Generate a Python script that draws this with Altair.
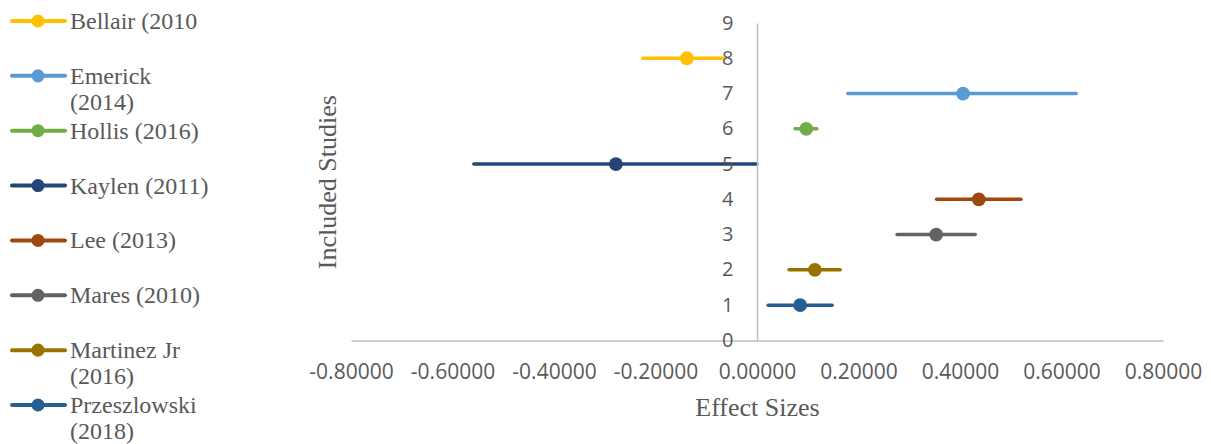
import altair as alt
import pandas as pd

# ---- data ----
studies = ["Bellair (2010", "Emerick (2014)", "Hollis (2016)", "Kaylen (2011)",
           "Lee (2013)", "Mares (2010)", "Martinez Jr (2016)", "Przeszlowski (2018)"]
legend_labels = ["Bellair (2010", "Emerick\n(2014)", "Hollis (2016)", "Kaylen (2011)",
                 "Lee (2013)", "Mares (2010)", "Martinez Jr\n(2016)", "Przeszlowski\n(2018)"]
y_pos = [8, 7, 6, 5, 4, 3, 2, 1]
effect = [-0.138, 0.406, 0.097, -0.278, 0.437, 0.353, 0.114, 0.085]
lower = [-0.225, 0.179, 0.075, -0.558, 0.354, 0.276, 0.063, 0.022]
upper = [-0.065, 0.629, 0.118, 0.000, 0.520, 0.430, 0.164, 0.148]
colors = ["#FFC000", "#5B9BD5", "#70AD47", "#264478",
          "#9E480E", "#636363", "#997300", "#255E91"]
x_ticks = [-0.8, -0.6, -0.4, -0.2, 0.0, 0.2, 0.4, 0.6, 0.8]
y_ticks = [0, 1, 2, 3, 4, 5, 6, 7, 8, 9]

df = pd.DataFrame({"study": studies, "label": legend_labels, "y": y_pos,
                   "es": effect, "lo": lower, "hi": upper})

TEXT = "#595959"
AXIS = "#BFBFBF"
PLOT_W, PLOT_H = 812, 317.4

color = alt.Color("study:N", scale=alt.Scale(domain=studies, range=colors), legend=None)

x_scale = alt.Scale(domain=[-0.8, 0.8], nice=False, zero=False)
y_scale = alt.Scale(domain=[0, 9], nice=False, zero=False)
x_axis = alt.Axis(values=x_ticks, title="Effect Sizes", grid=False, ticks=False,
                  labelExpr="replace(format(datum.value, '.5f'), '\u2212', '-')",
                  labelOverlap=False, labelFlush=False, labelBound=False,
                  labelPadding=21, titlePadding=12,
                  domainColor=AXIS, domainWidth=1.5,
                  labelFont="Open Sans", labelFontSize=21, labelColor=TEXT,
                  titleFont="Liberation Serif", titleFontSize=26,
                  titleFontWeight="normal", titleColor=TEXT)
y_axis = alt.Axis(values=y_ticks, labelExpr="format(datum.value, 'd')",
                  title="Included Studies",
                  grid=False, ticks=False, offset=-PLOT_W / 2,
                  labelOverlap=False, labelFlush=False, labelBound=False,
                  labelPadding=24, zindex=1,
                  domainColor=AXIS, domainWidth=1.5,
                  labelFont="Open Sans", labelFontSize=20, labelColor=TEXT,
                  titleX=-422, titleBaseline="alphabetic",
                  titleFont="Liberation Serif", titleFontSize=26,
                  titleFontWeight="normal", titleColor=TEXT)

base = alt.Chart(df)
rules = base.mark_rule(strokeWidth=3.5, strokeCap="round").encode(
    x=alt.X("lo:Q", scale=x_scale, axis=x_axis), x2="hi:Q",
    y=alt.Y("y:Q", scale=y_scale, axis=y_axis), color=color)
points = base.mark_circle(size=190, opacity=1).encode(
    x=alt.X("es:Q", scale=x_scale, axis=x_axis),
    y=alt.Y("y:Q", scale=y_scale, axis=y_axis), color=color)
main = alt.layer(rules, points).properties(width=PLOT_W, height=PLOT_H)

# ---- legend panel ----
leg_y = alt.Y("study:N", sort=studies, scale=alt.Scale(type="point", padding=0), axis=None)
leg_rule = base.mark_rule(strokeWidth=4, strokeCap="round").encode(
    x=alt.value(4), x2=alt.value(57), y=leg_y, yOffset=alt.value(-2), color=color)
leg_pt = base.mark_circle(size=170, opacity=1).encode(
    x=alt.value(30), y=leg_y, yOffset=alt.value(-2), color=color)
leg_txt = base.mark_text(align="left", baseline="alphabetic", dy=8, lineBreak="\n",
                         lineHeight=26, font="Liberation Serif", fontSize=24,
                         color=TEXT).encode(
    x=alt.value(62), y=leg_y, yOffset=alt.value(-2), text="label:N")
legend = alt.layer(leg_rule, leg_pt, leg_txt).properties(width=200, height=384)

chart = alt.hconcat(legend, main, spacing=143, bounds="flush").properties(
    padding={"top": 2, "left": 0, "right": 0, "bottom": 0}
).configure_view(stroke=None).configure_axis(labelOverlap=False)

chart.save("out.html", embed_options={"renderer": "svg", "actions": False})
